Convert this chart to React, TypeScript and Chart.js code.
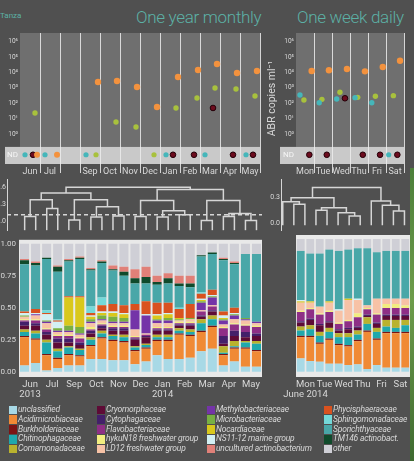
import React, { useEffect, useRef } from 'react';
import { Chart, registerables } from 'chart.js';

Chart.register(...registerables);

const FONT = "Roboto, 'Open Sans', 'DejaVu Sans', sans-serif";
Chart.defaults.font.family = FONT;

const PAGE_BG = '#505050';
const TEXT = '#d8d8d8';
const TITLE_COLOR = '#5cb1a6';
const PLOT_BG = '#6f6f6f';
const ND_BG = '#c9c9c9';
const GRID = 'rgba(236,236,236,0.85)';
const TREE = '#d6d6d6';

// gene marker colours
const C_ORANGE = '#f3923e';
const C_GREEN = '#a8c13d';
const C_TEAL = '#45b6ba';
const C_MAROON = '#6c0c1e';

// ---- ARG abundance (log10 ABR copies per ml) ----
// one-year series: x = months after 1 June 2013
const yearOrange = [[3.9, 3.38], [4.85, 3.44], [5.85, 3.05], [6.85, 1.75], [7.9, 3.7], [8.9, 4.16], [9.85, 4.55], [10.85, 3.96], [11.85, 4.09]];
const yearGreen = [[0.75, 1.36], [4.8, 0.78], [5.8, 0.45], [7.8, 1.69], [8.85, 2.34], [9.75, 2.99], [10.8, 2.92], [11.75, 2.47]];
const yearMaroon = [[9.65, 1.69]];
// samples below detection (x only)
const yearTealND = [0.25, 1.25, 3.3, 7.3, 9.25, 11.3];
const yearMaroonND = [0.65, 7.65, 8.7, 10.65, 11.65];
const yearOrangeND = [0.85, 1.85];
const yearGreenND = [3.8, 6.7];

// one-week series: x = days after Monday 2 June 2014
const weekOrange = [[0.87, 4.09], [1.83, 4.14], [2.83, 4.22], [3.83, 4.07], [4.82, 4.35], [5.78, 4.76]];
const weekGreen = [[0.44, 2.21], [1.44, 2.25], [2.44, 2.71], [3.43, 2.38], [4.41, 2.45], [5.41, 2.49]];
const weekTeal = [[0.22, 2.53], [1.29, 2.03], [2.26, 2.27], [3.28, 2.36], [4.21, 2.03]];
const weekMaroon = [[2.72, 2.32]];
const weekMaroonND = [0.74, 1.71, 3.71, 4.67, 5.63];
const weekTealND = [5.15];

const YEAR_COLUMNS = ['Jun', 'Jul', '', 'Sep', 'Oct', 'Nov', 'Dec', 'Jan', 'Feb', 'Mar', 'Apr', 'May'];
const WEEK_COLUMNS = ['Mon', 'Tue', 'Wed', 'Thu', 'Fri', 'Sat'];
const LOG_TICKS = [0, 1, 2, 3, 4, 5, 6];
const SUPERSCRIPT = ['⁰', '¹', '²', '³', '⁴', '⁵', '⁶'];

// ---- community similarity trees: [height, left, right], leaves = sample index ----
const yearTree = [0.60,
  [0.50,
    [0.38, [0.09, 0, 1], [0.23, 2, 3]],
    [0.38, [0.03, 4, 5], [0.26, [0.08, 6, 7], [0.10, 8, 9]]]],
  [0.56,
    [0.37, [0.09, 10, 11], [0.19, [0.08, 12, 13], [0.12, 14, 15]]],
    [0.37, [0.02, 16, 17], [0.14, [0.09, 18, 19], [0.02, 20, 21]]]]];
const yearCut = 0.12;
const yearTreeTicks = [0, 0.3, 0.6];

const weekTree = [0.42,
  [0.30,
    [0.25, 0, [0.22, 1, 2]],
    [0.18, [0.15, 3, 4], [0.12, 5, [0.08, 6, 7]]]],
  [0.26, 8, [0.21, 9, [0.14, 10, 11]]]];
const weekTreeTicks = [0, 0.3];

// ---- family composition (relative abundance), stacked bottom to top ----
const FAMILIES = [
  'unclassified', 'Acidimicrobiaceae', 'Burkholderiaceae', 'Chitinophagaceae', 'Comamonadaceae',
  'Cryomorphaceae', 'Cytophagaceae', 'Flavobacteriaceae', 'hykuN18 freshwater group', 'LD12 freshwater group',
  'Methylobacteriaceae', 'Microbacteriaceae', 'Nocardiaceae', 'NS11-12 marine group', 'Phycisphaeraceae',
  'Sphingomonadaceae', 'Sporichthyaceae', 'TM146 actinobact.', 'uncultured actinobacterium', 'other'];
const FAMILY_COLORS = [
  '#a8d9e6', '#f08a35', '#7c1414', '#1fa8ad', '#b9b22e',
  '#5e0b36', '#43206a', '#8e2f86', '#f2ee80', '#f7c2a6',
  '#7434a8', '#78b043', '#d9c81c', '#d2f0f4', '#d9521f',
  '#74d9d9', '#49a7a8', '#0f4a2b', '#e08078', '#cfcfd6'];
const LEGEND_ORDER = [
  'unclassified', 'Acidimicrobiaceae', 'Burkholderiaceae', 'Chitinophagaceae', 'Comamonadaceae',
  'Cryomorphaceae', 'Cytophagaceae', 'Flavobacteriaceae', 'hykuN18 freshwater group', 'LD12 freshwater group',
  'Methylobacteriaceae', 'Microbacteriaceae', 'Nocardiaceae', 'NS11-12 marine group', 'uncultured actinobacterium',
  'Phycisphaeraceae', 'Sphingomonadaceae', 'Sporichthyaceae', 'TM146 actinobact.', 'other'];

// one row per sample, families in FAMILIES order; "other" is the remainder
const yearShares = [
  [.05, .22, .01, .03, .02, .03, .03, .01, .01, .02, 0, .01, 0, .02, .01, 0, .37, .03, .01],
  [.07, .18, .01, .04, .02, .04, .02, .02, .01, .03, .01, 0, 0, .01, .03, 0, .34, .02, .01],
  [.01, .12, .01, .09, .02, .04, .02, .02, .01, .04, .01, .01, 0, .05, .01, .02, .40, .01, 0],
  [.03, .07, .01, .05, .02, .05, .03, .02, .01, .02, .01, .02, 0, .05, .01, .01, .37, .04, .01],
  [.05, .08, .01, .05, .01, .03, .03, .02, .01, .02, .01, .04, .22, 0, .01, 0, .27, .01, .01],
  [.05, .07, .01, .04, .01, .03, .02, .03, .01, .02, .01, .05, .23, 0, .01, 0, .29, .01, .01],
  [.10, .10, .01, .04, .02, .03, .02, .01, .02, .03, .01, .02, .02, .01, .02, .05, .28, .01, .01],
  [.10, .16, .01, .03, .02, .02, .02, .01, .01, .02, .01, .03, .02, .01, .05, .06, .27, .01, .01],
  [.09, .15, .01, .03, .01, .03, .02, .01, .01, .02, .01, .04, .03, .01, .06, 0, .26, .01, .03],
  [.09, .14, .01, .03, .02, .03, .02, .01, .01, .02, .01, .03, .03, .01, .06, 0, .23, .03, .04],
  [.06, .10, .01, .02, .01, .05, .01, .01, .01, .05, .15, 0, 0, 0, .05, 0, .16, .04, .07],
  [.08, .10, .01, .02, .01, .05, .01, .01, 0, .01, .14, 0, 0, .01, .10, 0, .14, .05, .08],
  [.13, .11, .01, .02, .02, .03, .01, .01, .01, .03, .02, .01, .03, .01, .09, 0, .14, .02, .05],
  [.10, .14, .01, .02, .02, .03, .01, .01, .01, .03, .02, .02, .03, .01, .08, 0, .15, .04, .04],
  [.10, .19, .01, .02, .02, .02, .01, .01, .01, .01, 0, .01, .01, 0, .07, .01, .17, .02, .06],
  [.11, .17, .01, .02, .02, .03, .01, .01, .01, .02, 0, .01, 0, 0, .11, 0, .13, .03, .06],
  [.16, .15, .01, .06, .03, .02, .01, .03, 0, .01, .06, .01, .01, .01, .04, .01, .28, .01, 0],
  [.18, .17, .01, .05, .03, .03, .01, .03, 0, .01, .06, .01, 0, .01, .04, 0, .28, .01, 0],
  [.05, .08, .01, .01, .05, .02, .06, .06, .01, .02, .03, .01, .01, .02, .03, 0, .40, .01, .01],
  [.08, .10, .01, .01, .04, .04, .04, .05, .01, .03, .03, .01, 0, .01, .04, 0, .34, .01, .01],
  [.04, .14, .01, .04, .01, .03, .04, .05, .01, .03, .01, .01, 0, 0, 0, 0, .50, 0, 0],
  [.04, .12, .01, .05, .02, .04, .02, .05, .01, .02, .01, 0, 0, 0, 0, 0, .53, 0, 0],
];
const weekShares = [
  [.10, .16, .01, .04, .03, .03, .01, .07, .01, .06, 0, 0, .01, .01, 0, 0, .37, 0, 0],
  [.08, .18, .01, .05, .03, .04, .01, .07, .01, .04, 0, 0, .01, 0, 0, 0, .36, 0, 0],
  [.075, .135, .01, .05, .03, .05, .01, .07, .01, .05, 0, 0, 0, 0, 0, 0, .40, 0, 0],
  [.06, .18, .01, .05, .03, .04, .01, .07, .01, .06, 0, 0, .01, 0, 0, 0, .39, 0, 0],
  [.06, .14, .01, .05, .03, .02, .01, .04, .01, .09, 0, 0, 0, .01, 0, 0, .44, 0, 0],
  [.05, .14, .01, .06, .03, .03, .01, .05, .01, .15, 0, 0, .01, 0, 0, 0, .37, 0, 0],
  [.055, .175, .01, .04, .03, .02, .01, .07, .03, .10, 0, 0, 0, .01, 0, 0, .38, 0, 0],
  [.02, .28, .01, .05, .05, .01, .01, .04, .01, .02, 0, 0, 0, 0, 0, 0, .43, 0, 0],
  [.05, .19, .01, .05, .03, .03, .01, .06, .01, .11, 0, 0, 0, 0, 0, 0, .35, 0, 0],
  [.03, .26, .01, .04, .05, .03, .01, .05, .03, .04, 0, 0, 0, 0, 0, 0, .36, 0, 0],
  [.03, .26, .01, .03, .06, .03, .01, .05, .03, .04, 0, 0, 0, 0, 0, 0, .36, 0, 0],
  [.03, .26, .01, .05, .04, .03, .01, .05, .02, .05, 0, 0, 0, 0, 0, 0, .36, 0, 0],
];
const YEAR_MONTHS = [['Jun', '2013'], 'Jul', 'Sep', 'Oct', 'Nov', 'Dec', ['Jan', '2014'], 'Feb', 'Mar', 'Apr', 'May'];
const WEEK_DAYS = [['Mon', 'June 2014'], 'Tue', 'Wed', 'Thu', 'Fri', 'Sat'];
const SHARE_TICKS = [0, 0.25, 0.5, 0.75, 1];

// ---- axis ranges ----
const LOG_MIN = -1.95;
const LOG_MAX = 6.56;
const ND_TOP = -0.84;
const ND_LEVEL = -1.35;

// Panel backgrounds painted under grid and marks
const panelPlugin = {
  id: 'panel',
  beforeDraw(chart: any, _args: any, o: any) {
    if (!o || !o.fill) return;
    const { ctx, chartArea: a, scales } = chart;
    ctx.save();
    if (o.bandTo !== undefined) {
      const yb = scales.y.getPixelForValue(o.bandTo);
      ctx.fillStyle = o.fill;
      ctx.fillRect(a.left, a.top, a.right - a.left, yb - a.top);
      ctx.fillStyle = o.band;
      ctx.fillRect(a.left - o.lead, yb, a.right - a.left + o.lead, a.bottom - yb);
    } else {
      ctx.fillStyle = o.fill;
      ctx.fillRect(a.left, a.top, a.right - a.left, a.bottom - a.top);
    }
    ctx.restore();
  },
};

const pts = (arr: number[][]) => arr.map(([x, y]) => ({ x, y }));
const ndPts = (arr: number[]) => arr.map((x) => ({ x, y: ND_LEVEL }));

function pointSet(data: any[], color: string, radius: number, ring?: string) {
  return {
    data,
    pointBackgroundColor: color,
    pointBorderColor: ring || color,
    pointBorderWidth: ring ? 1 : 0,
    pointRadius: radius,
    showLine: false,
    xAxisID: 'x',
    yAxisID: 'y',
  };
}

function abundanceConfig(p: any) {
  const n = p.columns.length;
  return {
    type: 'scatter',
    data: { datasets: p.sets },
    plugins: [panelPlugin],
    options: {
      responsive: false,
      animation: false,
      devicePixelRatio: 1,
      layout: { padding: { top: 33, right: p.padRight, left: 0, bottom: 0 } },
      plugins: {
        legend: { display: false },
        tooltip: { enabled: false },
        panel: { fill: PLOT_BG, band: ND_BG, bandTo: ND_TOP, lead: p.lead },
      },
      scales: {
        x: { type: 'linear', min: 0, max: n, display: false },
        xm: {
          type: 'category', axis: 'x', position: 'bottom', labels: p.columns, offset: true,
          grid: {
            offset: true, drawOnChartArea: true, drawTicks: true, tickLength: 9, lineWidth: 1,
            color: (c: any) => (c.index === 0 || c.index === n ? 'rgba(0,0,0,0)' : GRID),
          },
          border: { display: false },
          ticks: { color: TEXT, font: { family: FONT, size: 9 }, padding: -7, maxRotation: 0, autoSkip: false },
          afterFit: (s: any) => { s.height = 16; },
        },
        y: {
          type: 'linear', position: 'left', min: LOG_MIN, max: LOG_MAX,
          afterBuildTicks: (s: any) => { s.ticks = [ND_LEVEL, ...LOG_TICKS].map((v) => ({ value: v })); },
          ticks: {
            callback: (v: number) => (v === ND_LEVEL ? 'ND' : '10' + SUPERSCRIPT[v]),
            color: (c: any) => (c.tick && c.tick.value === ND_LEVEL ? '#f6f6f6' : TEXT),
            font: (c: any) => ({ family: FONT, size: c.tick && c.tick.value === ND_LEVEL ? 8 : 6.5 }),
            padding: 2,
          },
          grid: { display: false, drawTicks: false },
          border: { display: false },
          title: p.yTitle
            ? { display: true, text: p.yTitle, color: TEXT, font: { family: FONT, size: 10.5 }, padding: 0 }
            : { display: false },
          afterFit: (s: any) => { s.width = p.axisWidth; },
        },
      },
    },
  };
}

// Flattens a merge tree into ∩-shaped link segments separated by gaps
function dendroSegments(tree: any, leafDrop: number) {
  const out: { x: number; y: number | null }[] = [];
  const walk = (node: any): { x: number; h: number } => {
    if (typeof node === 'number') return { x: node, h: leafDrop };
    const [h, a, b] = node;
    const l = walk(a);
    const r = walk(b);
    out.push({ x: l.x, y: l.h }, { x: l.x, y: h }, { x: r.x, y: h }, { x: r.x, y: r.h }, { x: r.x, y: null });
    return { x: (l.x + r.x) / 2, h };
  };
  walk(tree);
  return out;
}

function treeConfig(p: any) {
  const datasets: any[] = [{
    data: dendroSegments(p.tree, p.leafDrop), showLine: true, spanGaps: false,
    borderColor: TREE, borderWidth: 1.5, pointRadius: 0,
  }];
  if (p.cut !== undefined) {
    datasets.push({
      data: [{ x: p.xMin, y: p.cut }, { x: p.xMax, y: p.cut }], showLine: true,
      borderColor: TREE, borderWidth: 1.5, borderDash: [4, 3], pointRadius: 0,
    });
  }
  return {
    type: 'scatter',
    data: { datasets },
    options: {
      responsive: false,
      animation: false,
      devicePixelRatio: 1,
      layout: { padding: { top: 2, bottom: 2, left: 0, right: p.padRight } },
      plugins: { legend: { display: false }, tooltip: { enabled: false } },
      scales: {
        x: { type: 'linear', min: p.xMin, max: p.xMax, display: false },
        y: {
          type: 'linear', min: p.yMin, max: p.yMax,
          afterBuildTicks: (s: any) => { s.ticks = p.ticks.map((v: number) => ({ value: v })); },
          ticks: { callback: (v: number) => v.toFixed(1), color: TEXT, font: { family: FONT, size: 7 }, padding: 1 },
          grid: { display: false, drawTicks: false },
          border: { display: true, color: TREE, width: 1 },
          afterFit: (s: any) => { s.width = p.axisWidth; },
        },
      },
    },
  };
}

function compositionConfig(p: any) {
  const samples = p.rows.map((_: any, i: number) => 'S' + (i + 1));
  const datasets = FAMILIES.map((name, k) => ({
    label: name,
    data: p.rows.map((r: number[]) =>
      k < r.length ? r[k] : Math.max(0, 1 - r.reduce((a, b) => a + b, 0))),
    backgroundColor: FAMILY_COLORS[k],
    borderWidth: 0,
    barPercentage: 0.82,
    categoryPercentage: 1,
    stack: 'all',
    xAxisID: 'x',
    yAxisID: 'y',
  }));
  return {
    type: 'bar',
    data: { labels: samples, datasets },
    plugins: [panelPlugin],
    options: {
      responsive: false,
      animation: false,
      devicePixelRatio: 1,
      layout: { padding: { top: 3, bottom: 0, left: p.padLeft, right: p.padRight } },
      plugins: { legend: { display: false }, tooltip: { enabled: false }, panel: { fill: '#e9e9e9' } },
      scales: {
        x: { type: 'category', stacked: true, display: false, offset: true },
        xm: {
          type: 'category', axis: 'x', position: 'bottom', labels: p.ticks, offset: true,
          grid: { display: false, drawTicks: false }, border: { display: false },
          ticks: { color: TEXT, font: { family: FONT, size: 9.5, lineHeight: 1.05 }, padding: 3, maxRotation: 0, autoSkip: false },
          afterFit: (s: any) => { s.height = 33; },
        },
        y: {
          type: 'linear', stacked: true, min: -0.04, max: 1.03, display: p.showAxis,
          afterBuildTicks: (s: any) => { s.ticks = SHARE_TICKS.map((v) => ({ value: v })); },
          ticks: { callback: (v: number) => v.toFixed(2), color: TEXT, font: { family: FONT, size: 8 }, padding: 3 },
          grid: { display: false, drawTicks: false }, border: { display: false },
          afterFit: (s: any) => { s.width = 19; },
        },
      },
    },
  };
}

const colorOf = (name: string) => FAMILY_COLORS[FAMILIES.indexOf(name)];

export default function App() {
  const yearDots = useRef<HTMLCanvasElement>(null);
  const weekDots = useRef<HTMLCanvasElement>(null);
  const yearTreeRef = useRef<HTMLCanvasElement>(null);
  const weekTreeRef = useRef<HTMLCanvasElement>(null);
  const yearBars = useRef<HTMLCanvasElement>(null);
  const weekBars = useRef<HTMLCanvasElement>(null);

  useEffect(() => {
    const charts = [
      new Chart(yearDots.current as any, abundanceConfig({
        columns: YEAR_COLUMNS, padRight: 6, axisWidth: 20, lead: 15,
        sets: [
          pointSet(pts(yearOrange), C_ORANGE, 3.2),
          pointSet(pts(yearGreen), C_GREEN, 2.7),
          pointSet(pts(yearMaroon), C_MAROON, 2.8, '#240008'),
          pointSet(ndPts(yearTealND), C_TEAL, 2.6),
          pointSet(ndPts(yearOrangeND), C_ORANGE, 3),
          pointSet(ndPts(yearGreenND), C_GREEN, 2.6),
          pointSet(ndPts(yearMaroonND), C_MAROON, 2.8, '#240008'),
        ],
      }) as any),
      new Chart(weekDots.current as any, abundanceConfig({
        columns: WEEK_COLUMNS, padRight: 6, axisWidth: 30, lead: 16, yTitle: 'ABR copies ml⁻¹',
        sets: [
          pointSet(pts(weekTeal), C_TEAL, 2.7),
          pointSet(pts(weekGreen), C_GREEN, 2.7),
          pointSet(pts(weekOrange), C_ORANGE, 3.2),
          pointSet(pts(weekMaroon), C_MAROON, 2.8, '#240008'),
          pointSet(ndPts(weekTealND), C_TEAL, 2.6),
          pointSet(ndPts(weekMaroonND), C_MAROON, 2.8, '#240008'),
        ],
      }) as any),
      new Chart(yearTreeRef.current as any, treeConfig({
        tree: yearTree, leafDrop: -0.15, cut: yearCut, ticks: yearTreeTicks,
        xMin: -1.6, xMax: 21.5, yMin: -0.16, yMax: 0.74, axisWidth: 7, padRight: 4,
      }) as any),
      new Chart(weekTreeRef.current as any, treeConfig({
        tree: weekTree, leafDrop: -0.03, ticks: weekTreeTicks,
        xMin: -0.16, xMax: 11.5, yMin: -0.095, yMax: 0.52, axisWidth: 15, padRight: 0,
      }) as any),
      new Chart(yearBars.current as any, compositionConfig({
        rows: yearShares, ticks: YEAR_MONTHS, padLeft: 0, padRight: 4, showAxis: true,
      }) as any),
      new Chart(weekBars.current as any, compositionConfig({
        rows: weekShares, ticks: WEEK_DAYS, padLeft: 7, padRight: 4, showAxis: false,
      }) as any),
    ];
    return () => charts.forEach((c) => c.destroy());
  }, []);

  const abs = (left: number, top: number): React.CSSProperties => ({ position: 'absolute', left, top });

  return (
    <div style={{ position: 'fixed', left: 0, top: 0, width: 414, height: 461, background: PAGE_BG, overflow: 'hidden', fontFamily: FONT }}>
      <div style={{ ...abs(410, 168), width: 4, height: 293, background: 'linear-gradient(#4c7f3a, #6d9c4a 45%, #3e6a30)' }} />
      <div style={{ ...abs(0, 12), fontSize: 8, color: TITLE_COLOR, lineHeight: 1 }}>Tanza</div>
      <div style={{ ...abs(136, 9), fontSize: 17, fontWeight: 300, color: TITLE_COLOR, lineHeight: 1, whiteSpace: 'nowrap', letterSpacing: -0.3 }}>One year monthly</div>
      <div style={{ ...abs(297, 9), fontSize: 17, fontWeight: 300, color: TITLE_COLOR, lineHeight: 1, whiteSpace: 'nowrap', letterSpacing: -0.3 }}>One week daily</div>

      <canvas ref={yearDots} width={266} height={180} style={abs(0, 0)} />
      <canvas ref={weekDots} width={144} height={180} style={abs(266, 0)} />
      <canvas ref={yearTreeRef} width={266} height={62} style={abs(0, 174)} />
      <canvas ref={weekTreeRef} width={144} height={62} style={abs(266, 174)} />
      <canvas ref={yearBars} width={266} height={178} style={abs(0, 232)} />
      <canvas ref={weekBars} width={144} height={178} style={abs(270, 232)} />

      <div style={{
        ...abs(9, 405), display: 'grid', gridAutoFlow: 'column',
        gridTemplateColumns: '88px 110px 117px 90px', gridTemplateRows: 'repeat(5, 9.8px)',
      }}>
        {LEGEND_ORDER.map((name) => (
          <div key={name} style={{ display: 'flex', alignItems: 'center', whiteSpace: 'nowrap', fontSize: 8.5, fontStyle: 'italic', color: TEXT, lineHeight: '9.8px', letterSpacing: -0.2 }}>
            <span style={{ width: 8, height: 8.5, background: colorOf(name), marginRight: 1, flex: 'none' }} />
            {name}
          </div>
        ))}
      </div>
    </div>
  );
}
